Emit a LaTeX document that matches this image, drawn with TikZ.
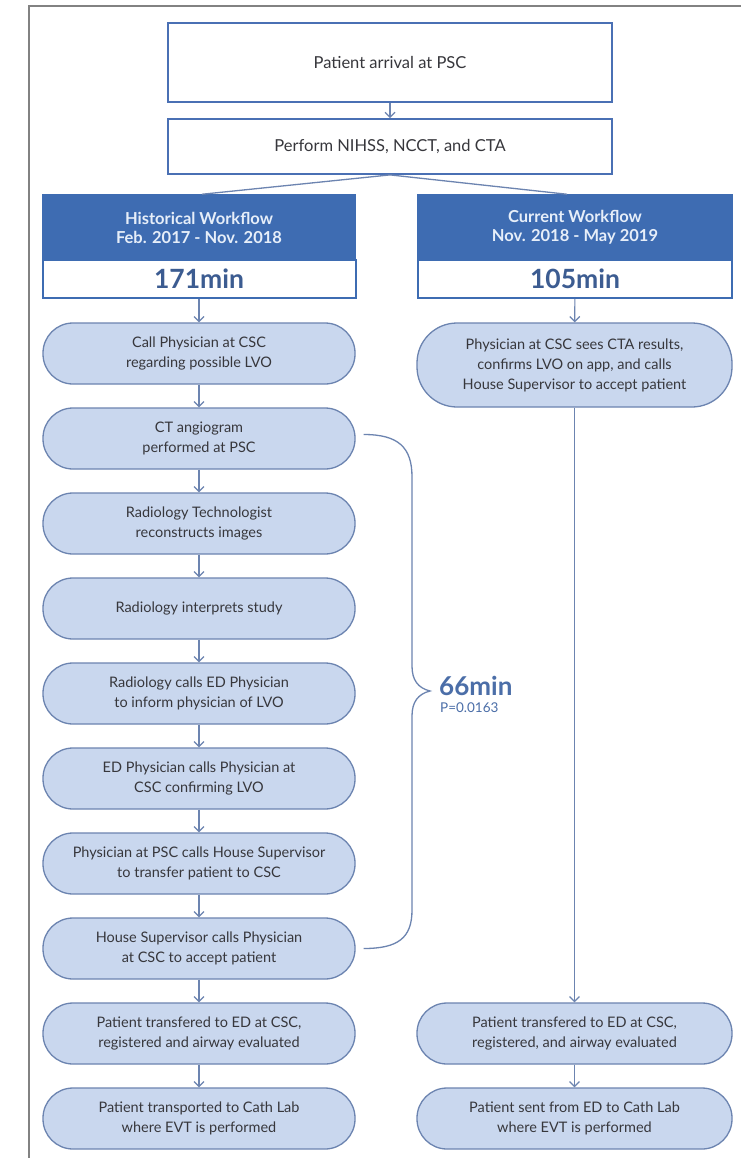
\documentclass[tikz,border=0pt]{standalone}
\usepackage{fontspec}
\setmainfont{Lato}
\usetikzlibrary{arrows.meta,calc}
\definecolor{hblue}{RGB}{62,108,178}
\definecolor{lblue}{RGB}{201,215,238}
\definecolor{bline}{RGB}{108,132,176}
\definecolor{tblue}{RGB}{74,112,180}
\definecolor{numblue}{RGB}{60,92,145}
\definecolor{sblue}{RGB}{75,110,168}
\definecolor{txt}{RGB}{55,55,60}
\definecolor{framec}{RGB}{130,130,130}
\definecolor{htxt}{RGB}{230,238,249}
\tikzset{
  topbox/.style={draw=tblue, line width=1.8pt, fill=white, minimum width=444pt, text=txt, font=\fontsize{16.5}{20}\selectfont},
  hdr/.style={fill=hblue, draw=hblue, line width=1.5pt, minimum width=313pt, minimum height=65pt, text=htxt, font=\bfseries\fontsize{16.5}{19}\selectfont, align=center, inner sep=0pt},
  minbox/.style={draw=hblue, line width=2pt, fill=white, minimum width=313pt, minimum height=38pt, text=numblue, font=\bfseries\fontsize{26.5}{28}\selectfont, inner sep=0pt},
  rbox/.style={draw=bline, line width=1.3pt, fill=lblue, rounded corners=30pt, minimum width=312pt, minimum height=61pt, align=center, text=txt, font=\fontsize{14.5}{20}\selectfont, inner sep=0pt},
  arr/.style={draw=bline, line width=1.2pt, -{Straight Barb[length=5pt,width=10pt]}},
  plain/.style={draw=bline, line width=1.3pt}
}
\begin{document}
\begin{tikzpicture}[x=1pt,y=-1pt]
\useasboundingbox (0,0) rectangle (741,1158);
\fill[white] (0,0) rectangle (741,1158);
\draw[framec, line width=1.5pt] (29,1158) -- (29,6) -- (741,6);

\node[topbox, minimum height=79pt] (b1) at (390,62.5) {Patient arrival at PSC};
\node[topbox, minimum height=55pt] (b2) at (390,146.5) {Perform NIHSS, NCCT, and CTA};

\node[hdr] (hL) at (199,227.5) {Historical Workflow\\Feb. 2017 - Nov. 2018};
\node[hdr, minimum width=314pt] (hR) at (575,227.5) {Current Workflow\\Nov. 2018 - May 2019};
\node[minbox] (mL) at (199,279) {171min};
\node[minbox, minimum width=314pt] (mR) at (575,279) {105min};

\node[rbox] (c1) at (199,353.5) {Call Physician at CSC\\regarding possible LVO};
\node[rbox] (c2) at (199,438.5) {CT angiogram\\performed at PSC};
\node[rbox] (c3) at (199,523.5) {Radiology Technologist\\reconstructs images};
\node[rbox] (c4) at (199,608.5) {Radiology interprets study};
\node[rbox] (c5) at (199,693.5) {Radiology calls ED Physician\\to inform physician of LVO};
\node[rbox] (c6) at (199,778.5) {ED Physician calls Physician at\\CSC confirming LVO};
\node[rbox] (c7) at (199,863.5) {Physician at PSC calls House Supervisor\\to transfer patient to CSC};
\node[rbox] (c8) at (199,948.5) {House Supervisor calls Physician\\at CSC to accept patient};
\node[rbox] (c9) at (199,1033.5) {Patient transfered to ED at CSC,\\registered and airway evaluated};
\node[rbox] (c10) at (199,1118.5) {Patient transported to Cath Lab\\where EVT is performed};

\node[rbox, minimum width=315pt, minimum height=84pt, rounded corners=40pt] (r1) at (574.5,365) {Physician at CSC sees CTA results,\\confirms LVO on app, and calls\\House Supervisor to accept patient};
\node[rbox, minimum width=315pt] (r2) at (574.5,1033.5) {Patient transfered to ED at CSC,\\registered, and airway evaluated};
\node[rbox, minimum width=315pt] (r3) at (574.5,1118.5) {Patient sent from ED to Cath Lab\\where EVT is performed};

\draw[arr] (b1) -- (b2);
\draw[plain] (b2.south) -- ($(hL.north)+(3,0)$);
\draw[plain] (b2.south) -- ($(hR.north)+(-8,0)$);
\draw[arr] (mL) -- (c1);
\foreach \a/\b in {c1/c2,c2/c3,c3/c4,c4/c5,c5/c6,c6/c7,c7/c8,c8/c9,c9/c10}
  \draw[arr] (\a) -- (\b);
\draw[arr] (mR) -- (r1);
\draw[arr] (r1) -- (r2);
\draw[arr] (r2) -- (r3);

\coordinate (bs) at ($(c2.east)+(8,-4)$);
\coordinate (be) at ($(c8.east)+(8,0)$);
\draw[plain] (bs) .. controls (398,434.5) and (412,447) .. (412,477) -- (412,666)
  .. controls (412,680) and (418,688) .. (430,691)
  .. controls (418,694) and (412,702) .. (412,716) -- (412,910)
  .. controls (412,938) and (398,948.5) .. (be);

\node[anchor=west, text=sblue, font=\bfseries\fontsize{26}{28}\selectfont, inner sep=0pt] (t66) at (439,686) {66min};
\node[anchor=north west, text=sblue, font=\fontsize{13.5}{15}\selectfont, inner sep=0pt] (tp) at ($(t66.south west)+(1,7)$) {P=0.0163};
\end{tikzpicture}
\end{document}
